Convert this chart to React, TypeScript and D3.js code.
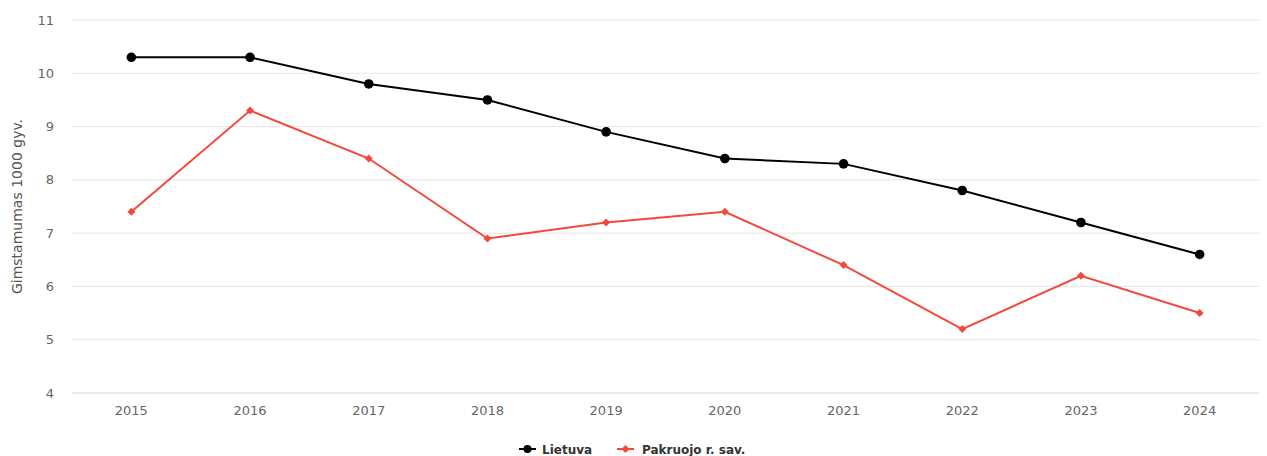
import React from "react";
import * as d3 from "d3";

const years = ["2015", "2016", "2017", "2018", "2019", "2020", "2021", "2022", "2023", "2024"];
const lietuva = [10.3, 10.3, 9.8, 9.5, 8.9, 8.4, 8.3, 7.8, 7.2, 6.6];
const pakruojo = [7.4, 9.3, 8.4, 6.9, 7.2, 7.4, 6.4, 5.2, 6.2, 5.5];
const yTicks = [4, 5, 6, 7, 8, 9, 10, 11];
const seriesNames = ["Lietuva", "Pakruojo r. sav."];

const W = 1267;
const H = 456;
const left = 72;
const right = 1259;
const top = 20;
const bottom = 393;
const FONT = "'DejaVu Sans', sans-serif";
const RED = "#f5483b";

export default function App() {
  const x = d3.scaleBand<string>().domain(years).range([left, right]);
  const y = d3.scaleLinear().domain([4, 11]).range([bottom, top]);
  const cx = (d: string) => (x(d) as number) + x.bandwidth() / 2;
  const line = d3
    .line<number>()
    .x((_, i) => cx(years[i]))
    .y((v) => y(v));
  const diamond = d3.symbol().type(d3.symbolSquare).size(32);

  return (
    <svg
      width={W}
      height={H}
      style={{ position: "absolute", left: 0, top: 0, fontFamily: FONT }}
    >
      <rect width={W} height={H} fill="#fff" />
      {yTicks.map((t) => (
        <g key={t}>
          <line
            x1={left}
            x2={right}
            y1={y(t)}
            y2={y(t)}
            stroke={t === 4 ? "#ccd6eb" : "#e6e6e6"}
            strokeWidth={1}
          />
          <text x={54} y={y(t) + 4.5} textAnchor="end" fontSize={13} fill="#666">
            {t}
          </text>
        </g>
      ))}
      {years.map((yr) => (
        <text key={yr} x={cx(yr)} y={415} textAnchor="middle" fontSize={13} fill="#666">
          {yr}
        </text>
      ))}
      <text
        transform={`translate(22, ${(top + bottom) / 2}) rotate(-90)`}
        textAnchor="middle"
        fontSize={14}
        fill="#555"
      >
        Gimstamumas 1000 gyv.
      </text>
      <path d={line(lietuva) || ""} fill="none" stroke="#000" strokeWidth={2} />
      <path d={line(pakruojo) || ""} fill="none" stroke={RED} strokeWidth={2} />
      {lietuva.map((v, i) => (
        <circle key={i} cx={cx(years[i])} cy={y(v)} r={4.8} fill="#000" />
      ))}
      {pakruojo.map((v, i) => (
        <path
          key={i}
          d={diamond() || ""}
          transform={`translate(${cx(years[i])},${y(v)}) rotate(45)`}
          fill={RED}
        />
      ))}
      <g transform="translate(519, 449)">
        <line x1={0} x2={17} y1={0} y2={0} stroke="#000" strokeWidth={2} />
        <circle cx={8.5} cy={0} r={4} fill="#000" />
        <text x={23} y={5} fontSize={12} fontWeight="bold" fill="#333">
          {seriesNames[0]}
        </text>
      </g>
      <g transform="translate(617, 449)">
        <line x1={0} x2={17} y1={0} y2={0} stroke={RED} strokeWidth={2} />
        <path d={diamond() || ""} transform="translate(8.5,0) rotate(45)" fill={RED} />
        <text x={25} y={5} fontSize={12} fontWeight="bold" fill="#333">
          {seriesNames[1]}
        </text>
      </g>
    </svg>
  );
}
